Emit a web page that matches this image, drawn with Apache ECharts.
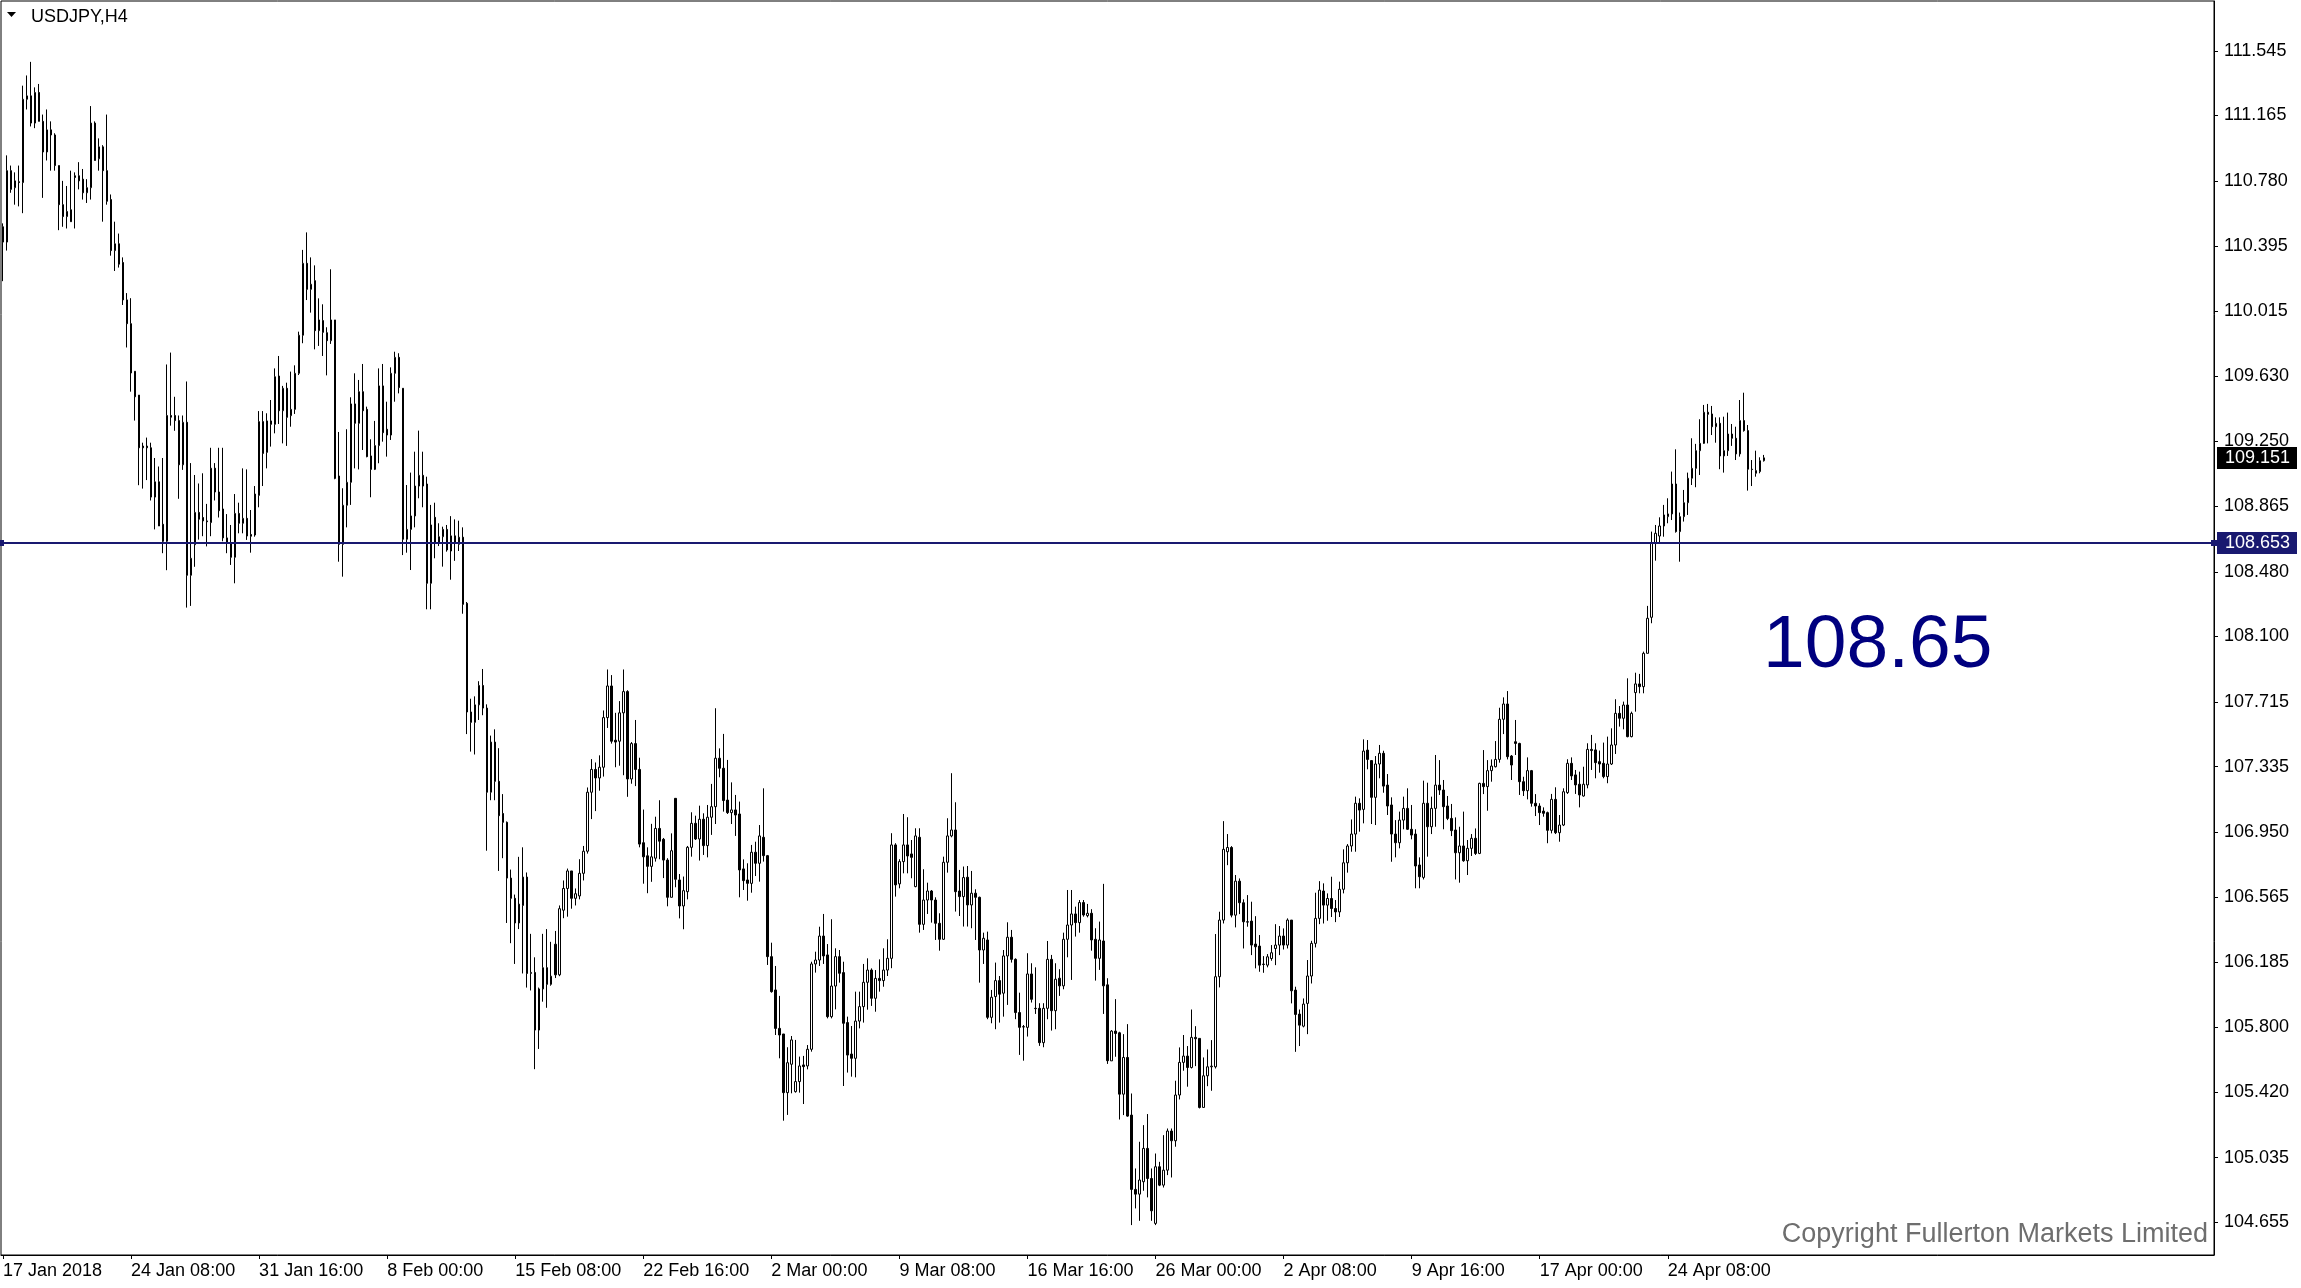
<!DOCTYPE html>
<html>
<head>
<meta charset="utf-8">
<script src="https://cdn.jsdelivr.net/npm/echarts@6/dist/echarts.min.js"></script>
<style>
html,body{margin:0;padding:0;background:#fff;}
#chart{width:2301px;height:1288px;}
</style>
</head>
<body>
<div id="chart"></div>
<script>
// ---------- data ----------
const symbolName = 'USDJPY,H4';
const tickLabels = ['17 Jan 2018','24 Jan 08:00','31 Jan 16:00','8 Feb 00:00','15 Feb 08:00','22 Feb 16:00','2 Mar 00:00','9 Mar 08:00','16 Mar 16:00','26 Mar 00:00','2 Apr 08:00','9 Apr 16:00','17 Apr 00:00','24 Apr 08:00'];
const barsPerLabel = 32;
const totalSlots = 553;
const priceTicks = [104.655,105.035,105.420,105.800,106.185,106.565,106.950,107.335,107.715,108.100,108.480,108.865,109.250,109.630,110.015,110.395,110.780,111.165,111.545];
const levelPrice = 108.653;
const lastPrice = 109.151;
const copyrightText = 'Copyright Fullerton Markets Limited';
// [open, high, low, close]
const bars = [
[110.51,110.53,110.19,110.42],[110.42,110.93,110.37,110.84],[110.84,110.87,110.71,110.73],[110.74,110.83,110.64,110.78],[110.775,110.87,110.63,110.77],
[110.77,111.34,110.59,111.26],[111.26,111.40,111.20,111.28],[111.28,111.48,111.10,111.12],[111.12,111.33,111.09,111.30],[111.30,111.35,111.13,111.13],
[111.13,111.17,110.68,110.95],[110.95,111.20,110.90,111.08],[111.08,111.13,110.84,111.05],[111.05,111.06,110.84,110.87],[110.87,110.87,110.49,110.64],
[110.64,110.78,110.51,110.57],[110.57,110.75,110.50,110.60],[110.61,110.84,110.54,110.54],[110.81,110.83,110.50,110.80],[110.81,110.89,110.73,110.78],
[110.79,110.85,110.67,110.71],[110.71,110.79,110.65,110.74],[110.74,111.22,110.67,111.12],[111.12,111.13,110.90,110.90],[110.91,111.03,110.84,110.98],
[110.98,110.99,110.54,110.84],[110.84,111.17,110.64,110.66],[110.67,110.70,110.34,110.37],[110.37,110.54,110.25,110.41],[110.41,110.47,110.27,110.29],
[110.30,110.33,110.05,110.08],[110.08,110.12,109.80,109.94],[109.94,110.09,109.54,109.65],[109.66,109.66,109.37,109.51],[109.52,109.52,108.99,109.21],
[109.22,109.24,108.97,109.21],[109.22,109.27,109.02,109.21],[109.21,109.24,108.90,108.92],[108.92,109.15,108.73,109.01],[109.01,109.10,108.75,108.75],
[108.76,109.15,108.59,108.66],[108.66,109.70,108.49,109.40],[109.40,109.77,109.34,109.39],[109.40,109.51,109.31,109.37],[109.37,109.40,108.91,109.11],
[109.11,109.40,109.08,109.36],[109.36,109.60,108.27,108.46],[108.46,109.12,108.28,108.56],[108.64,109.05,108.51,108.83],[108.83,109.00,108.67,108.79],
[108.80,109.06,108.69,108.78],[108.78,108.88,108.63,108.775],[108.77,109.21,108.69,109.09],[109.09,109.12,108.90,108.95],[108.95,109.21,108.80,108.84],
[108.85,109.21,108.66,108.68],[108.68,108.82,108.59,108.65],[108.652,108.756,108.521,108.566],[108.566,108.938,108.413,108.824],[108.824,108.887,108.707,108.766],
[108.766,109.089,108.707,108.795],[108.795,109.083,108.668,108.691],[108.70,108.844,108.593,108.69],[108.697,108.985,108.687,108.938],[108.930,109.426,108.860,109.364],
[109.364,109.426,108.985,109.177],[109.183,109.413,109.089,109.368],[109.368,109.491,109.217,109.348],[109.348,109.677,109.295,109.628],[109.632,109.750,109.350,109.428],
[109.428,109.574,109.236,109.560],[109.560,109.593,109.221,109.389],[109.399,109.658,109.334,109.436],[109.436,109.695,109.409,109.648],[109.648,109.893,109.638,109.872],
[109.872,110.374,109.825,110.295],[110.295,110.477,110.079,110.142],[110.142,110.330,110.005,110.172],[110.193,110.283,109.789,109.899],[109.899,110.089,109.809,109.962],
[109.958,110.054,109.750,109.889],[109.887,109.919,109.636,109.840],[109.840,110.260,109.821,109.962],[109.962,109.962,109.025,109.030],[109.044,109.303,108.540,108.642],
[108.642,108.972,108.452,108.872],[108.872,109.319,108.742,109.007],[109.007,109.507,108.874,109.468],[109.468,109.648,109.089,109.354],[109.354,109.609,109.083,109.540],
[109.540,109.703,109.197,109.428],[109.436,109.452,109.154,109.158],[109.162,109.260,108.919,109.083],[109.083,109.368,109.079,109.223],[109.223,109.677,109.119,109.574],
[109.574,109.703,109.246,109.299],[109.319,109.481,109.158,109.285],[109.285,109.683,109.256,109.648],[109.648,109.775,109.481,109.742],[109.742,109.766,109.530,109.564],
[109.560,109.560,108.579,108.672],[108.672,108.991,108.593,108.730],[108.730,109.064,108.491,108.809],[108.809,109.187,108.742,108.985],[108.985,109.311,108.913,109.048],
[109.048,109.187,108.860,108.985],[108.997,109.040,108.260,108.413],[108.413,108.874,108.260,108.756],[108.801,108.887,108.560,108.652],[108.648,108.766,108.632,108.687],
[108.687,108.746,108.511,108.730],[108.730,108.756,108.599,108.609],[108.603,108.808,108.434,108.692],[108.692,108.789,108.545,108.650],[108.642,108.781,108.603,108.684],
[108.684,108.742,108.234,108.289],[108.295,108.303,107.526,107.656],[107.656,107.734,107.423,107.595],[107.595,107.748,107.406,107.698],[107.698,107.837,107.609,107.812],
[107.812,107.909,107.637,107.679],[107.679,107.701,106.840,107.184],[107.184,107.517,107.137,107.479],[107.479,107.554,107.137,107.248],[107.248,107.443,106.721,107.046],
[107.059,107.173,106.796,107.007],[107.007,107.012,106.415,106.679],[106.679,106.729,106.296,106.560],[106.560,106.582,106.174,106.415],[106.415,106.804,106.379,106.526],
[106.518,106.860,106.118,106.685],[106.685,106.712,106.035,106.118],[106.118,106.351,106.018,106.124],[106.124,106.213,105.555,105.785],[105.785,106.035,105.674,106.027],
[106.027,106.351,105.952,106.152],[106.152,106.379,105.916,106.054],[106.054,106.304,106.046,106.102],[106.290,106.368,106.091,106.110],[106.110,106.518,106.102,106.499],
[106.490,106.665,106.443,106.618],[106.618,106.735,106.452,106.721],[106.721,106.721,106.499,106.560],[106.560,106.618,106.518,106.587],[106.574,106.790,106.554,106.707],
[106.707,106.868,106.665,106.837],[106.837,107.212,106.823,107.184],[107.184,107.379,107.026,107.318],[107.318,107.359,107.073,107.268],[107.268,107.401,107.193,107.331],
[107.331,107.665,107.276,107.623],[107.623,107.906,107.562,107.809],[107.809,107.873,107.470,107.484],[107.490,107.651,107.331,107.479],[107.484,107.720,107.340,107.651],
[107.651,107.906,107.284,107.776],[107.776,107.784,107.157,107.262],[107.262,107.479,107.234,107.470],[107.470,107.609,107.220,107.318],[107.318,107.387,106.860,106.879],
[106.887,107.082,106.646,106.804],[106.810,106.860,106.590,106.748],[106.748,106.998,106.657,106.804],[106.796,107.040,106.776,106.971],[106.971,107.137,106.790,106.896],
[106.907,106.915,106.679,106.785],[106.785,106.796,106.513,106.566],[106.566,106.942,106.566,106.840],[107.148,107.148,106.625,106.672],[106.668,106.703,106.442,106.515],
[106.515,106.688,106.378,106.605],[106.599,106.868,106.554,106.860],[106.860,107.066,106.805,107.001],[107.001,107.046,106.903,106.909],[106.909,107.105,106.782,107.025],
[107.025,107.060,106.815,106.870],[106.870,107.109,106.801,107.037],[107.037,107.233,106.933,107.099],[107.099,107.678,106.997,107.384],[107.384,107.442,107.272,107.325],
[107.325,107.527,107.070,107.135],[107.138,107.374,107.056,107.064],[107.064,107.242,106.997,107.080],[107.080,107.168,106.927,107.050],[107.056,107.129,106.566,106.727],
[106.733,106.789,106.609,106.664],[106.668,106.766,106.546,106.648],[106.648,106.874,106.593,106.831],[106.831,106.893,106.691,106.766],[106.766,106.991,106.658,106.927],
[106.919,107.207,106.776,106.811],[106.811,106.815,106.168,106.217],[106.217,106.299,106.005,106.011],[106.021,106.162,105.756,105.795],[105.795,105.986,105.619,105.756],
[105.762,105.762,105.252,105.417],[105.417,105.684,105.286,105.593],[105.584,105.750,105.413,105.727],[105.423,105.727,105.417,105.482],[105.482,105.629,105.417,105.574],
[105.580,105.633,105.350,105.570],[105.574,105.697,105.554,105.672],[105.672,106.187,105.658,106.174],[106.174,106.246,106.123,106.197],[106.197,106.393,106.162,106.338],
[106.338,106.468,106.174,106.221],[106.227,106.291,105.854,105.864],[105.864,106.437,105.854,106.044],[106.044,106.266,105.907,106.217],[106.217,106.256,106.064,106.119],
[106.123,106.187,105.456,105.825],[105.829,105.864,105.535,105.638],[105.644,105.809,105.511,105.619],[105.619,106.011,105.507,105.838],[105.838,106.011,105.795,105.923],
[105.923,106.174,105.829,106.066],[106.066,106.207,105.905,106.138],[106.138,106.148,105.927,105.972],[105.972,106.138,105.893,106.089],[106.089,106.201,106.011,106.076],
[106.076,106.266,106.040,106.138],[106.138,106.319,106.103,106.207],[106.207,106.943,106.149,106.874],[106.874,106.884,106.570,106.639],[106.645,106.790,106.619,106.776],
[106.776,107.056,106.707,106.874],[106.874,107.037,106.707,106.809],[106.821,106.903,106.678,106.801],[106.629,106.972,106.625,106.927],[106.919,106.972,106.358,106.407],
[106.407,106.731,106.374,106.550],[106.550,106.652,106.468,106.603],[106.603,106.609,106.417,106.550],[106.550,106.566,106.315,106.413],[106.413,106.472,106.252,106.319],
[106.319,106.805,106.315,106.772],[106.772,107.031,106.711,106.927],[106.927,107.296,106.919,106.962],[106.962,107.125,106.482,106.599],[106.603,106.727,106.456,106.570],
[106.570,106.747,106.394,106.682],[106.684,106.750,106.394,106.521],[106.521,106.721,106.384,106.590],[106.590,106.613,106.315,106.566],[106.566,106.570,106.064,106.256],
[106.256,106.358,106.174,106.325],[106.315,106.364,105.849,105.860],[105.860,106.021,105.825,105.978],[105.982,106.182,105.790,106.076],[106.076,106.103,105.829,105.996],
[106.002,106.256,105.864,106.221],[106.221,106.419,105.933,106.331],[106.331,106.374,106.182,106.201],[106.201,106.207,105.849,105.888],[105.888,106.005,105.639,105.801],
[105.805,105.815,105.605,105.803],[105.801,106.237,105.747,106.115],[106.115,106.178,105.947,105.966],[105.913,106.154,105.880,105.911],[105.913,105.943,105.692,105.711],
[105.711,105.943,105.684,105.913],[105.913,106.309,105.849,106.201],[106.201,106.227,105.782,105.899],[105.899,106.178,105.790,106.084],[106.090,106.143,105.986,106.045],
[106.045,106.358,106.025,106.319],[106.319,106.609,106.213,106.403],[106.403,106.609,106.080,106.468],[106.468,106.511,106.335,106.417],[106.417,106.550,106.358,106.535],
[106.535,106.550,106.452,106.462],[106.458,106.527,106.448,106.472],[106.472,106.496,106.252,106.315],[106.319,106.384,106.076,106.207],[106.207,106.423,106.139,106.315],
[106.309,106.645,105.880,106.045],[106.051,106.090,105.586,105.605],[105.604,105.785,105.604,105.779],[105.779,105.967,105.628,105.765],[105.769,105.775,105.259,105.408],
[105.408,105.761,105.285,105.624],[105.624,105.820,105.275,105.279],[105.285,105.412,104.638,104.848],[104.848,104.971,104.736,104.820],[104.820,105.128,104.663,104.903],
[104.893,105.226,104.840,105.089],[105.089,105.291,104.801,104.912],[104.912,104.971,104.663,104.722],[104.648,105.059,104.638,104.981],[104.981,105.010,104.867,104.873],
[104.873,105.167,104.859,104.961],[104.961,105.206,104.932,105.191],[105.191,105.206,104.918,105.134],[105.134,105.487,105.099,105.403],[105.403,105.683,105.377,105.595],
[105.595,105.756,105.546,105.632],[105.632,105.691,105.452,105.565],[105.565,105.906,105.559,105.742],[105.742,105.808,105.573,105.734],[105.736,105.736,105.324,105.330],
[105.330,105.624,105.330,105.516],[105.516,105.671,105.455,105.569],[105.569,105.726,105.428,105.573],[105.569,106.350,105.559,106.099],[106.099,106.481,106.036,106.432],
[106.432,107.014,106.412,106.848],[106.834,106.938,106.755,106.859],[106.859,106.867,106.448,106.461],[106.461,106.697,106.389,106.661],[106.661,106.677,106.467,106.534],
[106.534,106.554,106.265,106.422],[106.422,106.579,106.393,106.420],[106.426,106.540,106.226,106.285],[106.291,106.455,106.148,106.275],[106.279,106.344,106.128,106.167],
[106.173,106.220,106.122,106.171],[106.167,106.232,106.154,106.216],[106.206,106.285,106.193,106.240],[106.265,106.408,106.167,106.285],[106.285,106.397,106.226,106.338],
[106.338,106.383,106.259,106.285],[106.285,106.442,106.265,106.432],[106.432,106.432,105.942,106.016],[106.020,106.040,105.657,105.877],[105.879,105.906,105.691,105.814],
[105.808,105.971,105.801,105.938],[105.942,106.197,105.761,106.103],[106.103,106.310,106.059,106.295],[106.295,106.593,106.271,106.442],[106.442,106.661,106.408,106.608],
[106.603,106.648,106.412,106.520],[106.520,106.589,106.428,106.559],[106.559,106.687,106.450,106.500],[106.500,106.550,106.420,106.480],[106.480,106.658,106.450,106.613],
[106.613,106.848,106.589,106.769],[106.769,106.879,106.711,106.868],[106.868,107.024,106.834,106.938],[106.938,107.158,106.834,107.119],[107.119,107.148,106.952,107.079],
[107.083,107.495,107.001,107.426],[107.432,107.491,107.319,107.377],[107.370,107.373,106.997,107.154],[107.154,107.397,106.991,107.350],[107.350,107.462,107.266,107.413],
[107.413,107.428,107.181,107.220],[107.226,107.291,107.050,107.103],[107.109,107.154,106.775,106.938],[106.938,107.020,106.801,106.887],[106.887,107.070,106.854,107.020],
[107.020,107.158,106.966,107.089],[107.089,107.207,106.962,106.966],[106.966,107.109,106.907,106.932],[106.938,106.966,106.619,106.750],[106.756,106.801,106.619,106.687],
[106.683,107.252,106.671,107.119],[107.119,107.240,106.805,106.981],[106.981,107.158,106.938,107.089],[107.089,107.403,106.981,107.226],[107.226,107.373,107.168,107.197],
[107.197,107.256,106.966,107.099],[107.103,107.162,107.020,107.030],[107.030,107.115,106.926,106.958],[106.962,107.036,106.671,106.828],[106.828,106.981,106.652,106.868],
[106.868,107.070,106.775,106.781],[106.781,106.903,106.697,106.854],[106.854,106.938,106.809,106.913],[106.913,106.971,106.815,106.824],[106.824,107.240,106.820,107.236],
[107.236,107.432,107.173,107.217],[107.217,107.373,107.075,107.311],[107.311,107.377,107.246,107.338],[107.334,107.485,107.330,107.377],[107.377,107.681,107.358,107.613],
[107.613,107.742,107.526,107.703],[107.703,107.779,107.377,107.393],[107.397,107.403,107.256,107.344],[107.481,107.609,107.403,107.471],[107.471,107.475,107.168,107.246],
[107.246,107.275,107.162,107.193],[107.193,107.389,107.142,107.311],[107.311,107.315,107.099,107.119],[107.119,107.173,107.044,107.103],[107.103,107.119,106.991,107.064],
[107.073,107.095,107.040,107.060],[107.064,107.070,106.884,106.960],[106.960,107.174,106.942,107.142],[107.142,107.213,106.938,106.946],[106.946,107.050,106.893,106.991],
[106.991,107.207,106.985,107.187],[107.182,107.378,107.174,107.354],[107.354,107.389,107.256,107.280],[107.286,107.315,107.174,107.227],[107.231,107.305,107.095,107.168],
[107.162,107.334,107.158,107.231],[107.227,107.472,107.207,107.436],[107.436,107.521,107.315,107.429],[107.433,107.472,107.266,107.358],[107.364,107.429,107.299,107.350],
[107.354,107.476,107.266,107.276],[107.276,107.511,107.237,107.350],[107.350,107.560,107.344,107.462],[107.462,107.731,107.409,107.648],[107.648,107.691,107.570,107.619],
[107.619,107.717,107.554,107.697],[107.697,107.854,107.507,107.511],[107.511,107.658,107.507,107.648],[107.770,107.887,107.658,107.821],[107.821,107.880,107.766,107.805],
[107.805,108.011,107.766,108.001],[108.001,108.280,108.001,108.207],[108.213,108.717,108.178,108.648],[108.648,108.756,108.546,108.707],[108.691,108.801,108.652,108.750],
[108.750,108.874,108.687,108.815],[108.805,108.913,108.766,108.821],[108.821,109.070,108.785,108.997],[108.997,109.201,108.711,108.717],[108.717,108.829,108.540,108.805],
[108.805,108.962,108.776,108.887],[108.887,109.064,108.815,109.031],[109.031,109.266,108.991,109.089],[109.089,109.233,108.978,109.193],[109.193,109.378,109.050,109.236],
[109.236,109.462,109.233,109.419],[109.419,109.468,109.236,109.407],[109.409,109.456,109.285,109.334],[109.334,109.389,109.240,109.354],[109.354,109.389,109.084,109.162],
[109.162,109.393,109.064,109.193],[109.193,109.417,109.162,109.291],[109.291,109.350,109.221,109.266],[109.266,109.334,109.138,109.174],[109.174,109.491,109.158,109.370],
[109.370,109.534,109.305,109.311],[109.311,109.344,108.958,109.084],[109.084,109.138,108.985,109.082],[109.060,109.193,109.040,109.076],[109.070,109.154,109.060,109.134],
[109.134,109.168,109.129,109.151]
];

// ---------- chart ----------
const navy = '#191970';
const labelFont = 'Liberation Sans, Arial, sans-serif';
const slots = Array.from({length: totalSlots}, (_, i) => i);
const candleData = bars.map(b => [b[0], b[3], b[2], b[1]]); // [open, close, low, high]

const priceBoxLabel = (text, bg) => ({
  show: true, position: 'end', distance: 3,
  formatter: text,
  color: '#fff', backgroundColor: bg,
  fontFamily: labelFont, fontSize: 18,
  padding: [3, 4, 2, 8], width: 68, lineHeight: 17
});

const chart = echarts.init(document.getElementById('chart'), null, {renderer: 'canvas'});
chart.setOption({
  animation: false,
  backgroundColor: '#ffffff',
  grid: {
    left: 1, right: 87, top: 1, bottom: 33,
    show: true, borderColor: '#000', borderWidth: 1,
    containLabel: false, outerBoundsMode: 'none'
  },
  xAxis: {
    type: 'category',
    data: slots,
    boundaryGap: true,
    axisLine: {show: true, lineStyle: {color: '#000', width: 1}},
    axisTick: {
      show: true, alignWithLabel: true, length: 4,
      lineStyle: {color: '#000'},
      interval: (i) => i % barsPerLabel === 0 && i / barsPerLabel < tickLabels.length
    },
    axisLabel: {
      interval: barsPerLabel - 1,
      align: 'left',
      margin: 7,
      color: '#000',
      fontFamily: labelFont,
      fontSize: 18,
      formatter: (v, i) => (i % barsPerLabel === 0 && tickLabels[i / barsPerLabel]) ? tickLabels[i / barsPerLabel] : ''
    },
    splitLine: {show: false}
  },
  yAxis: {
    type: 'value',
    position: 'right',
    min: 104.462,
    max: 111.838,
    scale: true,
    axisLine: {show: true, lineStyle: {color: '#000', width: 1}},
    axisTick: {show: true, length: 4, lineStyle: {color: '#000'}, customValues: priceTicks},
    axisLabel: {
      customValues: priceTicks,
      margin: 10,
      color: '#000',
      fontFamily: labelFont,
      fontSize: 18,
      formatter: (v) => v.toFixed(3)
    },
    splitLine: {show: false}
  },
  series: [
    {
      type: 'candlestick',
      data: candleData,
      barWidth: 2,
      large: false,
      itemStyle: {
        color: '#ffffff', color0: '#000000',
        borderColor: '#000000', borderColor0: '#000000',
        borderWidth: 1
      },
      markLine: {
        silent: true,
        animation: false,
        symbol: ['rect', 'rect'],
        symbolSize: 6,
        lineStyle: {color: navy, width: 2, type: 'solid'},
        itemStyle: {color: navy},
        data: [
          {yAxis: levelPrice, label: priceBoxLabel(levelPrice.toFixed(3), navy)}
        ]
      }
    },
    {
      type: 'line',
      data: [],
      silent: true,
      markLine: {
        silent: true,
        animation: false,
        symbol: ['none', 'none'],
        lineStyle: {color: 'rgba(0,0,0,0)', width: 1},
        data: [
          {yAxis: lastPrice, label: priceBoxLabel(lastPrice.toFixed(3), '#000')}
        ]
      }
    }
  ],
  graphic: [
    {
      type: 'polygon', silent: true,
      shape: {points: [[7, 12], [16, 12], [11.5, 17]]},
      style: {fill: '#000'}
    },
    {
      type: 'text', left: 31, top: 8, silent: true,
      style: {text: symbolName, font: '18px ' + labelFont, fill: '#000'}
    },
    {
      type: 'text', left: 1763, top: 609, silent: true,
      style: {text: levelPrice.toFixed(2), font: '75px ' + labelFont, fill: '#00007f'}
    },
    {
      type: 'text', right: 93, top: 1221, silent: true,
      style: {text: copyrightText, font: '27px ' + labelFont, fill: '#6e6e6e'}
    }
  ]
});
</script>
</body>
</html>
